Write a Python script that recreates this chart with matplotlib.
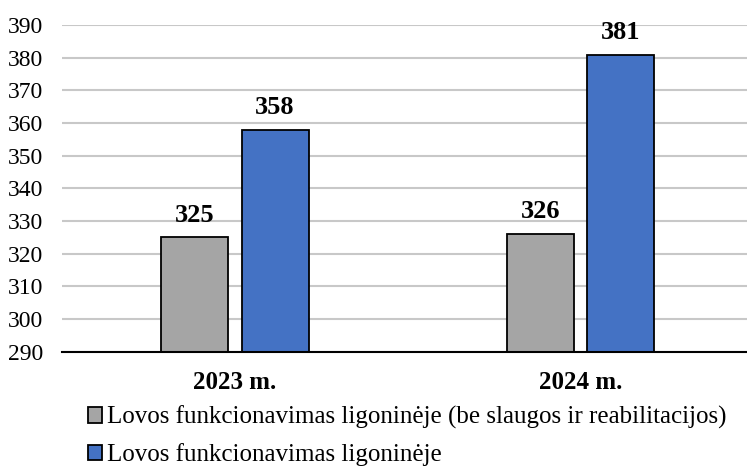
import matplotlib.pyplot as plt
import numpy as np

categories = ["2023 m.", "2024 m."]
series_names = [
    "Lovos funkcionavimas ligoninėje (be slaugos ir reabilitacijos)",
    "Lovos funkcionavimas ligoninėje",
]
without_nursing = [325, 326]
total = [358, 381]

plt.rcParams["font.family"] = ["Liberation Serif", "DejaVu Serif"]

fig = plt.figure(figsize=(7.47, 4.66), dpi=100)
ax = fig.add_axes([0.083, 0.245, 0.9257, 0.701])

x = np.arange(len(categories))
w = 0.194
off = 0.1164
b1 = ax.bar(x - off, np.array(without_nursing) - 290, w, bottom=290,
            color="#a5a5a5", edgecolor="black", linewidth=1.3,
            label=series_names[0], zorder=3)
b2 = ax.bar(x + off, np.array(total) - 290, w, bottom=290,
            color="#4472c4", edgecolor="black", linewidth=1.3,
            label=series_names[1], zorder=3)

for bars, vals in ((b1, without_nursing), (b2, total)):
    for r, v in zip(bars, vals):
        ax.text(r.get_x() + r.get_width() / 2, v + 3.3, str(v), ha="center",
                va="bottom", fontsize=19, fontweight="bold")

ax.set_xlim(-0.5, 1.5)
ax.set_ylim(290, 390)
ax.set_yticks(range(290, 391, 10))
ax.set_xticks(x)
ax.set_xticklabels(categories, fontsize=18, fontweight="bold")
ax.tick_params(axis="y", length=0, labelsize=17, pad=13.5)
ax.tick_params(axis="x", length=0, pad=14)
ax.grid(axis="y", color="#c8c8c8", linewidth=1.5, zorder=0)
for s in ("left", "right", "top"):
    ax.spines[s].set_visible(False)
ax.spines["bottom"].set_linewidth(1.5)
ax.spines["bottom"].set_zorder(4)

fig.legend(handles=[b1, b2], loc="upper left", bbox_to_anchor=(0.118, 0.129),
           ncol=1, frameon=False, fontsize=18, handlelength=0.55,
           handleheight=0.55, handletextpad=0.2, labelspacing=0.56,
           borderaxespad=0, borderpad=0)

fig.savefig("out.png", dpi=100)
